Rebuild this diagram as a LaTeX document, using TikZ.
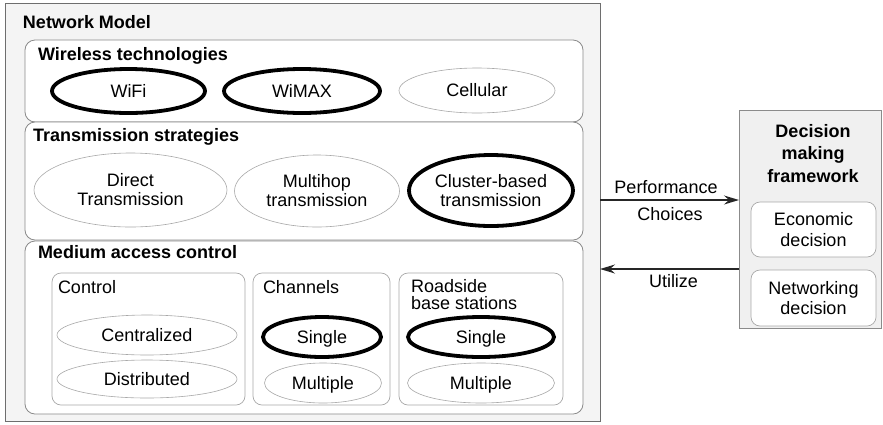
\documentclass[tikz,border=0pt]{standalone}
\usepackage{fontspec}
\setmainfont{Liberation Sans}
\usetikzlibrary{arrows.meta,shapes.geometric}
\definecolor{bgfill}{HTML}{F4F4F4}
\definecolor{dmfill}{HTML}{F0F0F0}
\definecolor{outerline}{HTML}{6E6E6E}
\definecolor{panelline}{HTML}{8A8A8A}
\definecolor{thinline}{HTML}{A8A8A8}
\begin{document}
\begin{tikzpicture}[x=1pt,y=-1pt,
  every node/.style={inner sep=0pt, outer sep=0pt},
  font=\fontsize{18}{19}\selectfont,
  frame/.style={draw=panelline, line width=0.8pt, fill=white, rounded corners=10pt, anchor=north west},
  subframe/.style={draw=thinline, line width=0.7pt, fill=white, rounded corners=9pt, anchor=north west},
  thinell/.style={ellipse, draw=thinline, line width=0.6pt, fill=white, align=center},
  thickell/.style={ellipse, draw=black, line width=3.8pt, fill=white, align=center},
  oneline/.style={text height=12.9pt, text depth=0pt},
  ttl/.style={anchor=base west, font=\fontsize{18}{19}\selectfont\bfseries},
  lbl/.style={anchor=base west},
  arr/.style={draw=black!85, line width=1.5pt, -{Stealth[length=15pt,width=9pt,inset=5pt]}},
]
\useasboundingbox (0,0) rectangle (883,424);

% outer network model box
\node[draw=outerline, line width=0.9pt, fill=bgfill, minimum width=595pt, minimum height=418pt, anchor=north west] (nm) at (5,3) {};
\node[ttl] (nmt) at (23,28) {Network Model};

% panels
\node[frame, minimum width=558pt, minimum height=82pt] (wt) at (25,40) {};
\node[frame, minimum width=558pt, minimum height=118pt] (ts) at (25,122) {};
\node[frame, minimum width=558pt, minimum height=173pt] (mac) at (25,241) {};
\node[ttl] (wtt) at (38,60) {Wireless technologies};
\node[ttl] (tst) at (33,141) {Transmission strategies};
\node[ttl] (mact) at (38,258) {Medium access control};

% wireless technologies
\node[thickell, oneline, minimum width=153pt, minimum height=44pt] (wifi) at (128.5,91) {WiFi};
\node[thickell, oneline, minimum width=156pt, minimum height=44pt] (wimax) at (302,91) {WiMAX};
\node[thinell, oneline, minimum width=156pt, minimum height=45pt] (cell) at (477,90.5) {Cellular};

% transmission strategies
\node[thinell, minimum width=193pt, minimum height=74pt] (direct) at (130.5,190) {Direct\\Transmission};
\node[thinell, minimum width=165pt, minimum height=72pt] (multi) at (317,191) {Multihop\\transmission};
\node[thickell, minimum width=164pt, minimum height=71pt] (clus) at (491,190.5) {Cluster-based\\transmission};

% medium access control sub boxes
\node[subframe, minimum width=193pt, minimum height=132pt] (ctrl) at (52,273) {};
\node[subframe, minimum width=137pt, minimum height=132pt] (chan) at (253,273) {};
\node[subframe, minimum width=164pt, minimum height=132pt] (road) at (399,273) {};
\node[lbl] (ctrlt) at (58,293) {Control};
\node[lbl] (chant) at (263,293) {Channels};
\node[anchor=north west, align=left, font=\fontsize{18}{17.5}\selectfont] (roadt) at (411,279.2) {Roadside\\base stations};

\node[thinell, oneline, minimum width=180pt, minimum height=40pt] (cent) at (147,335) {Centralized};
\node[thinell, oneline, minimum width=180pt, minimum height=38pt] (dist) at (147,379) {Distributed};
\node[thickell, oneline, minimum width=118pt, minimum height=40pt] (chs) at (322,337) {Single};
\node[thinell, oneline, minimum width=117pt, minimum height=40pt] (chm) at (323,383) {Multiple};
\node[thickell, oneline, minimum width=146pt, minimum height=40pt] (rbs) at (481,337) {Single};
\node[thinell, oneline, minimum width=147pt, minimum height=40pt] (rbm) at (481,383) {Multiple};

% decision making framework
\node[draw=outerline!80, line width=0.8pt, fill=dmfill, minimum width=142pt, minimum height=218pt, anchor=north west] (dm) at (739,110) {};
\node[align=center, font=\fontsize{18}{22.5}\selectfont\bfseries] (dmt) at (813,153.5) {Decision\\making\\framework};
\node[subframe, minimum width=125pt, minimum height=55pt, anchor=center, align=center, font=\fontsize{18}{21}\selectfont] (eco) at (813.5,229.5) {Economic\\decision};
\node[subframe, minimum width=125pt, minimum height=56pt, anchor=center, align=center, font=\fontsize{18}{20}\selectfont] (net) at (813.5,298) {Networking\\decision};

% connectors
\coordinate (perfy) at (0,200);
\coordinate (utily) at (0,269);
\draw[arr] (nm.east |- perfy) -- (dm.west |- perfy);
\draw[arr] (dm.west |- utily) -- (nm.east |- utily);
\node[anchor=base] (perf) at (666,193) {Performance};
\node[anchor=base] (choi) at (670,220) {Choices};
\node[anchor=base] (util) at (673.5,287) {Utilize};
\end{tikzpicture}
\end{document}
